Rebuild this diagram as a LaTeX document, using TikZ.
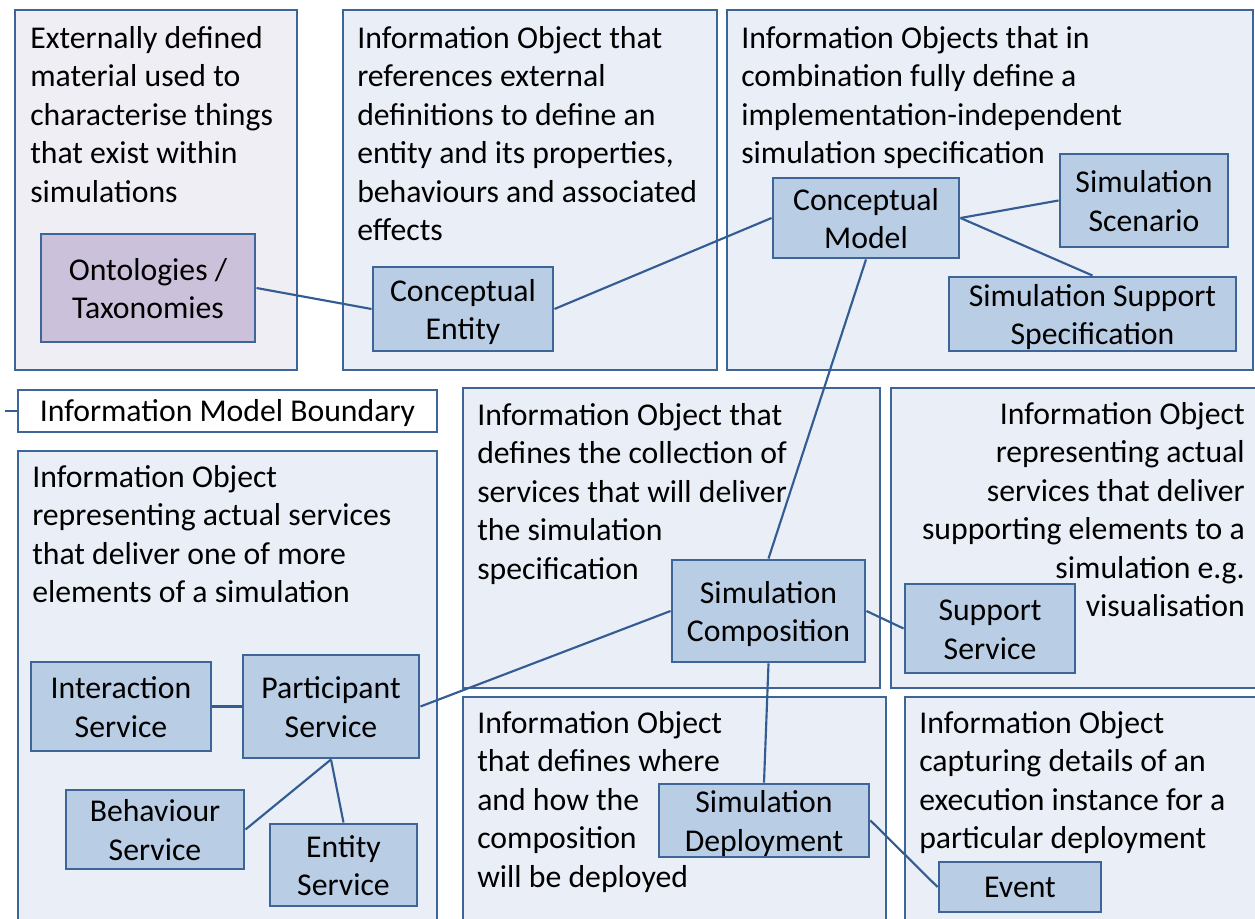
\documentclass[tikz,border=0pt]{standalone}
\usepackage{fontspec}
\setmainfont{Carlito}
\definecolor{bord}{HTML}{3E6598}
\definecolor{linec}{HTML}{335D92}
\definecolor{contfill}{HTML}{E9EEF7}
\definecolor{lavfill}{HTML}{F0EEF5}
\definecolor{boxfill}{HTML}{B9CDE5}
\definecolor{ontfill}{HTML}{CCC1DA}
\newcommand{\lbl}{\fontsize{23.8pt}{28.9pt}\selectfont}
\newcommand{\twol}[2]{\rule{0pt}{17.5pt}#1\\\raisebox{0pt}[\height][0pt]{#2}}
\tikzset{
  cont/.style={draw=bord, fill=contfill, line width=2.2pt, inner sep=0pt, align=center, font=\lbl},
  ibox/.style={draw=bord, fill=boxfill, line width=2.2pt, inner sep=0pt, align=center, font=\lbl},
  conn/.style={draw=linec, line width=1.6pt},
  desc/.style={anchor=north west, inner sep=0pt, align=left, font=\lbl, execute at begin node=\strut},
  descr/.style={anchor=north east, inner sep=0pt, align=right, font=\lbl, execute at begin node=\strut},
  corners/.style args={#1/#2/#3/#4}{minimum width={(#3-#1)*0.75pt}, minimum height={(#4-#2)*0.75pt}, at={({(#1+#3)/2},{(#2+#4)/2})}},
}
\begin{document}
\begin{tikzpicture}[x=0.75pt,y=-0.75pt]
\path[clip] (0,0) rectangle (1255,919);
\fill[white] (0,0) rectangle (1255,919);
% containers
\node[cont, fill=lavfill, corners=15/10/297/370] (c1) {};
\node[cont, corners=343/10/717/370] (c2) {};
\node[cont, corners=727/10/1253/370] (c3) {};
\node[cont, corners=18/451/437/930] (c4) {};
\node[cont, corners=463/388/880/688] (c5) {};
\node[cont, corners=891/388/1262/688] (c6) {};
\node[cont, corners=463/697/886/930] (c7) {};
\node[cont, corners=905/697/1262/930] (c8) {};
\node[cont, fill=white, corners=18/390/437/432] (bnd) {\rule{0pt}{20pt}Information Model Boundary};
\coordinate (bndend) at (5,411);
% descriptions
\node[desc] (t1) at (30,26) {Externally defined\\material used to\\characterise things\\that exist within\\simulations};
\node[desc] (t2) at (357,26) {Information Object that\\references external\\definitions to define an\\entity and its properties,\\behaviours and associated\\effects};
\node[desc] (t3) at (741,26) {Information Objects that in\\combination fully define a\\implementation-independent\\simulation specification};
\node[desc] (t4) at (32,465) {Information Object\\representing actual services\\that deliver one of more\\elements of a simulation};
\node[desc] (t5) at (477,403) {Information Object that\\defines the collection of\\services that will deliver\\the simulation\\specification};
\node[descr] (t6) at (1245,402) {Information Object\\representing actual\\services that deliver\\supporting elements to a\\simulation e.g.\\visualisation};
\node[desc] (t7) at (477,711) {Information Object\\that defines where\\and how the\\composition\\will be deployed};
\node[desc] (t8) at (919,711) {Information Object\\capturing details of an\\execution instance for a\\particular deployment};
% inner boxes
\node[ibox, fill=ontfill, corners=41/234/255/342] (ont) {\twol{Ontologies /}{Taxonomies}};
\node[ibox, corners=373/267/553/351] (ce) {\twol{Conceptual}{Entity}};
\node[ibox, corners=773/178/959/258] (cm) {\twol{Conceptual}{Model}};
\node[ibox, corners=1060/154/1228/247] (ss) {\twol{Simulation}{Scenario}};
\node[ibox, corners=949/277/1236/351] (sss) {\twol{Simulation Support}{Specification}};
\node[ibox, corners=672/560/865/662] (sc) {\twol{Simulation}{Composition}};
\node[ibox, corners=905/584/1075/673] (sup) {\twol{Support}{Service}};
\node[ibox, corners=31/662/211/751] (is) {\twol{Interaction}{Service}};
\node[ibox, corners=243/655/419/758] (ps) {\twol{Participant}{Service}};
\node[ibox, corners=66/790/244/869] (bs) {\twol{Behaviour}{Service}};
\node[ibox, corners=270/824/417/906] (es) {\twol{Entity}{Service}};
\node[ibox, corners=659/784/869/857] (sd) {\twol{Simulation}{Deployment}};
\node[ibox, corners=939/862/1101/912] (ev) {Event};
% connectors
\draw[conn] (bndend) -- (bnd.west);
\draw[conn] (ont.east) -- (ce.west);
\draw[conn] (ce.east) -- (cm.west);
\draw[conn] (cm.east) -- (ss.west);
\draw[conn] (cm.east) -- (sss.north);
\draw[conn] (cm.south) -- (sc.north);
\draw[conn] (sc.west) -- (ps.east);
\draw[conn] (sc.east) -- (sup.west);
\draw[conn] (sc.south) -- (sd.north);
\draw[conn] (sd.east) -- (ev.west);
\draw[conn] (is.east) -- (ps.west);
\draw[conn] (ps.south) -- (bs.east);
\draw[conn] (ps.south) -- (es.north);
\end{tikzpicture}
\end{document}
